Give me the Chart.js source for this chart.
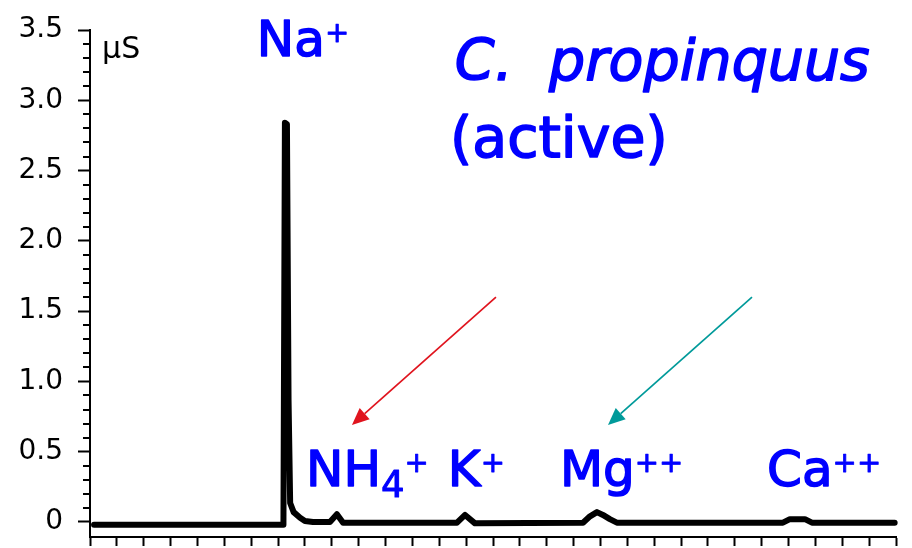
<!DOCTYPE html>
<html>
<head>
<meta charset="utf-8">
<script src="https://cdn.jsdelivr.net/npm/chart.js@4.4.1/dist/chart.umd.min.js"></script>
<style>
  html, body { margin: 0; padding: 0; background: #ffffff; }
  #wrap { width: 912px; height: 548px; position: relative; }
</style>
</head>
<body>
<div id="wrap"><canvas id="chart" width="912" height="548"></canvas></div>
<script>
// ---- data ----
const retentionTime = [0.15, 7.20, 7.255, 7.33, 7.39, 7.45, 7.58, 7.82, 8.0, 8.3, 8.93, 9.19, 9.42, 13.66, 13.96, 14.33, 18.35, 18.61, 18.87, 19.09, 19.35, 19.61, 25.79, 26.05, 26.61, 26.87, 29.95];
const conductance   = [-0.02, -0.02, 2.84, 2.83, 0.87, 0.135, 0.07, 0.03, 0.007, 0.0, 0.0, 0.055, -0.005, -0.005, 0.05, -0.01, -0.005, 0.04, 0.07, 0.05, 0.02, -0.005, -0.005, 0.02, 0.02, -0.005, -0.005];

const yTickValues = [0, 0.5, 1.0, 1.5, 2.0, 2.5, 3.0, 3.5];
const yTickLabels = ['0', '0.5', '1.0', '1.5', '2.0', '2.5', '3.0', '3.5'];
const xTickValues = [0,1,2,3,4,5,6,7,8,9,10,11,12,13,14,15,16,17,18,19,20,21,22,23,24,25,26,27,28,29,30];
const yUnitLabel = 'μS';

const titleLines = ['C.  propinquus', '(active)'];
const titleX = [13.58, 13.40];
const titleY = [3.144, 2.60];

// ion labels: [text, role] parts, role = base | sup | sub
const ionLabels = [
  [['Na', 'base'], ['+', 'sup']],
  [['NH', 'base'], ['4', 'sub'], ['+', 'sup']],
  [['K', 'base'], ['+', 'sup']],
  [['Mg', 'base'], ['++', 'sup']],
  [['Ca', 'base'], ['++', 'sup']]
];
const ionLabelX = [6.21, 8.04, 13.32, 17.49, 25.20];
const ionLabelY = [3.314, 0.256, 0.256, 0.256, 0.256];

// arrows (data coordinates): from -> to
const arrowFromX = [15.11, 24.64];
const arrowFromY = [1.60, 1.60];
const arrowToX = [9.75, 19.28];
const arrowToY = [0.69, 0.69];
const arrowColors = ['#e0141e', '#009a9a'];

const points = retentionTime.map((t, i) => ({ x: t, y: conductance[i] }));

const FONT = '"DejaVu Sans", Verdana, sans-serif';

function heavyText(ctx, txt, px, py, w) {
  ctx.lineWidth = w;
  ctx.lineJoin = 'round';
  ctx.strokeText(txt, px, py);
  ctx.fillText(txt, px, py);
}

const overlay = {
  id: 'overlay',
  afterDraw(chart) {
    const { ctx, scales: { x, y } } = chart;
    ctx.save();
    // minor ticks on y axis
    ctx.strokeStyle = '#000';
    ctx.lineWidth = 2;
    for (let i = 0; i < yTickValues.length - 1; i++) {
      const a = yTickValues[i], b = yTickValues[i + 1];
      for (let k = 1; k < 5; k++) {
        const py = Math.round(y.getPixelForValue(a + (b - a) * k / 5));
        ctx.beginPath();
        ctx.moveTo(x.left - 7, py);
        ctx.lineTo(x.left, py);
        ctx.stroke();
      }
    }
    // unit label
    ctx.fillStyle = '#000';
    ctx.font = '30px ' + FONT;
    ctx.textBaseline = 'alphabetic';
    ctx.textAlign = 'left';
    ctx.fillText(yUnitLabel, x.getPixelForValue(0.45), y.getPixelForValue(3.30));

    // arrows
    for (let i = 0; i < arrowFromX.length; i++) {
      const x0 = x.getPixelForValue(arrowFromX[i]), y0 = y.getPixelForValue(arrowFromY[i]);
      const x1 = x.getPixelForValue(arrowToX[i]), y1 = y.getPixelForValue(arrowToY[i]);
      const ang = Math.atan2(y1 - y0, x1 - x0);
      const hl = 17, hw = 7.5;
      const bx = x1 - hl * Math.cos(ang), by = y1 - hl * Math.sin(ang);
      ctx.strokeStyle = arrowColors[i];
      ctx.fillStyle = arrowColors[i];
      ctx.lineWidth = 1.7;
      ctx.beginPath();
      ctx.moveTo(x0, y0);
      ctx.lineTo(bx, by);
      ctx.stroke();
      ctx.beginPath();
      ctx.moveTo(x1, y1);
      ctx.lineTo(bx + hw * Math.sin(ang), by - hw * Math.cos(ang));
      ctx.lineTo(bx - hw * Math.sin(ang), by + hw * Math.cos(ang));
      ctx.closePath();
      ctx.fill();
    }

    // title
    ctx.fillStyle = '#0000ff';
    ctx.strokeStyle = '#0000ff';
    ctx.font = 'italic 57px ' + FONT;
    heavyText(ctx, titleLines[0], x.getPixelForValue(titleX[0]), y.getPixelForValue(titleY[0]), 1.6);
    ctx.font = '57px ' + FONT;
    heavyText(ctx, titleLines[1], x.getPixelForValue(titleX[1]), y.getPixelForValue(titleY[1]), 1.6);

    // ion labels
    ionLabels.forEach((parts, i) => {
      let px = x.getPixelForValue(ionLabelX[i]);
      const base = y.getPixelForValue(ionLabelY[i]);
      parts.forEach(([txt, role]) => {
        let dy = 0, w = 1.5;
        if (role === 'base') { ctx.font = '50px ' + FONT; }
        else if (role === 'sup') { ctx.font = '29px ' + FONT; dy = -14; w = 0.8; }
        else { ctx.font = '37px ' + FONT; dy = 11; w = 1.0; }
        heavyText(ctx, txt, px, base + dy, w);
        px += ctx.measureText(txt).width;
      });
    });
    ctx.restore();
  }
};

new Chart(document.getElementById('chart'), {
  type: 'line',
  data: {
    datasets: [{
      data: points,
      borderColor: '#000',
      borderWidth: 6,
      pointRadius: 0,
      tension: 0,
      borderJoinStyle: 'round',
      borderCapStyle: 'round',
      fill: false,
      clip: false
    }]
  },
  options: {
    responsive: false,
    animation: false,
    devicePixelRatio: 1,
    layout: { padding: { top: 30, right: 16, left: 0, bottom: 0 } },
    plugins: { legend: { display: false }, tooltip: { enabled: false }, title: { display: false } },
    scales: {
      x: {
        type: 'linear',
        min: 0,
        max: 30,
        afterBuildTicks: s => { s.ticks = xTickValues.map(v => ({ value: v })); },
        afterFit: s => { s.height = 11; s.paddingLeft = 0; s.paddingRight = 0; },
        ticks: { display: false, autoSkip: false },
        border: { display: true, color: '#000', width: 2 },
        grid: { display: true, drawOnChartArea: false, drawTicks: true, tickLength: 9, tickWidth: 2, tickColor: '#000' }
      },
      y: {
        type: 'linear',
        min: -0.107,
        max: 3.5,
        afterBuildTicks: s => { s.ticks = yTickValues.map(v => ({ value: v })); },
        afterFit: s => { s.width = 90; s.paddingTop = 0; s.paddingBottom = 0; },
        ticks: {
          color: '#000',
          padding: 15,
          font: { family: FONT, size: 28 },
          callback: (v) => { const i = yTickValues.indexOf(v); return i >= 0 ? yTickLabels[i] : ''; }
        },
        border: { display: true, color: '#000', width: 2 },
        grid: { display: true, drawOnChartArea: false, drawTicks: true, tickLength: 12, tickWidth: 2, tickColor: '#000' }
      }
    }
  },
  plugins: [overlay]
});
</script>
</body>
</html>
